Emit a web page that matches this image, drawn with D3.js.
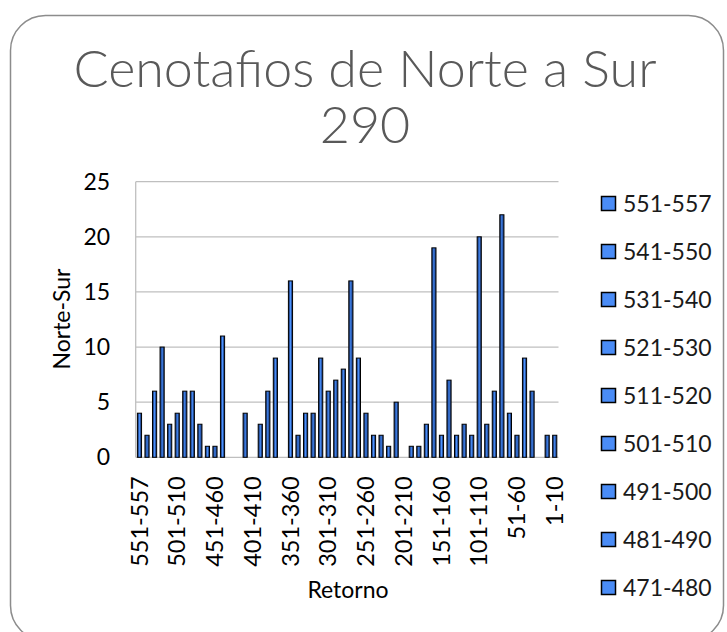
<!DOCTYPE html>
<html>
<head>
<meta charset="utf-8">
<script src="https://cdnjs.cloudflare.com/ajax/libs/d3/7.8.5/d3.min.js"></script>
<style>
body { margin: 0; background: #fff; }
svg text { font-family: Lato, "Open Sans", sans-serif; }
</style>
</head>
<body>
<svg></svg>
<script>
var categories = ["551-557", "541-550", "531-540", "521-530", "511-520", "501-510", "491-500", "481-490",
    "471-480", "461-470", "451-460", "441-450", "431-440", "421-430", "411-420", "401-410", "391-400",
    "381-390", "371-380", "361-370", "351-360", "341-350", "331-340", "321-330", "311-320", "301-310",
    "291-300", "281-290", "271-280", "261-270", "251-260", "241-250", "231-240", "221-230", "211-220",
    "201-210", "191-200", "181-190", "171-180", "161-170", "151-160", "141-150", "131-140", "121-130",
    "111-120", "101-110", "91-100", "81-90", "71-80", "61-70", "51-60", "41-50", "31-40", "21-30",
    "11-20", "1-10"];

var values = [4, 2, 6, 10, 3, 4, 6, 6, 3, 1, 1, 11, 0, 0, 4, 0, 3, 6, 9, 0, 16, 2, 4, 4, 9, 6, 7, 8,
    16, 9, 4, 2, 2, 1, 5, 0, 1, 1, 3, 19, 2, 7, 2, 3, 2, 20, 3, 6, 22, 4, 2, 9, 6, 0, 2, 2];

var yTicks = [0, 5, 10, 15, 20, 25];
var xTickLabels = ["551-557", "501-510", "451-460", "401-410", "351-360", "301-310", "251-260",
    "201-210", "151-160", "101-110", "51-60", "1-10"];
var legendLabels = ["551-557", "541-550", "531-540", "521-530", "511-520", "501-510", "491-500",
    "481-490", "471-480"];
var titleLines = ["Cenotafios de Norte a Sur", "290"];

var screen = {width: 727, height: 632};
var plot = {left: 135.7, right: 558.5, top: 181.7, bottom: 457.3};

var svg = d3.select("svg")
    .attr("width", screen.width)
    .attr("height", screen.height);

// chart frame
svg.append("rect")
    .attr("x", 10.5).attr("y", 15.5)
    .attr("width", 713).attr("height", 625)
    .attr("rx", 35).attr("ry", 35)
    .attr("fill", "#fff")
    .attr("stroke", "#8c8c8c")
    .attr("stroke-width", 1.5);

var grad = svg.append("defs").append("linearGradient")
    .attr("id", "barGrad")
    .attr("x1", 0).attr("x2", 1).attr("y1", 0).attr("y2", 0);
grad.append("stop").attr("offset", "0%").attr("stop-color", "#1b3468");
grad.append("stop").attr("offset", "35%").attr("stop-color", "#2c5fb8");
grad.append("stop").attr("offset", "50%").attr("stop-color", "#4d95ff");
grad.append("stop").attr("offset", "65%").attr("stop-color", "#2c5fb8");
grad.append("stop").attr("offset", "100%").attr("stop-color", "#1b3468");

// title
svg.selectAll(".title")
    .data(titleLines)
    .enter()
    .append("text")
    .attr("class", "title")
    .attr("x", 365)
    .attr("y", function(d, i){ return 87 + i * 56; })
    .attr("text-anchor", "middle")
    .attr("fill", "#595959")
    .style("font-size", "52px")
    .style("font-weight", 300)
    .text(function(d){ return d; });

var xScale = d3.scaleBand()
    .domain(categories)
    .range([plot.left, plot.right])
    .paddingInner(0.45)
    .paddingOuter(0.225);

var yScale = d3.scaleLinear()
    .domain([0, 25])
    .range([plot.bottom, plot.top]);

// gridlines
svg.selectAll(".grid")
    .data(yTicks)
    .enter()
    .append("line")
    .attr("class", "grid")
    .attr("x1", plot.left).attr("x2", plot.right)
    .attr("y1", function(d){ return yScale(d); })
    .attr("y2", function(d){ return yScale(d); })
    .attr("stroke", "#bfbfbf")
    .attr("stroke-width", 1.3);

svg.append("line")
    .attr("x1", plot.left).attr("x2", plot.left)
    .attr("y1", plot.top).attr("y2", plot.bottom)
    .attr("stroke", "#bfbfbf")
    .attr("stroke-width", 1.3);

// y axis
var yAxis = svg.append("g")
    .attr("transform", "translate(" + plot.left + ",0)")
    .call(d3.axisLeft(yScale).tickValues(yTicks).tickSize(0).tickPadding(25.5));
yAxis.select(".domain").remove();
yAxis.selectAll("text")
    .style("font-size", "23px")
    .attr("fill", "#000");

// x axis
var xAxis = svg.append("g")
    .attr("transform", "translate(0," + plot.bottom + ")")
    .call(d3.axisBottom(xScale).tickValues(xTickLabels).tickSize(0));
xAxis.select(".domain").remove();
xAxis.selectAll("text")
    .attr("transform", "rotate(-90)")
    .attr("text-anchor", "end")
    .attr("x", -19)
    .attr("y", 0)
    .attr("dy", "0.35em")
    .style("font-size", "23.5px")
    .attr("fill", "#000");

// bars
svg.selectAll(".bar")
    .data(values)
    .enter()
    .append("rect")
    .attr("class", "bar")
    .attr("x", function(d, i){ return xScale(categories[i]); })
    .attr("y", function(d){ return yScale(d); })
    .attr("width", xScale.bandwidth())
    .attr("height", function(d){ return plot.bottom - yScale(d); })
    .attr("fill", "url(#barGrad)")
    .attr("stroke", "#000")
    .attr("stroke-width", 1)
    .style("display", function(d){ return d > 0 ? null : "none"; });

// axis titles
svg.append("text")
    .attr("transform", "translate(61.7,319) rotate(-90)")
    .attr("text-anchor", "middle")
    .attr("dy", "0.35em")
    .style("font-size", "23px")
    .text("Norte-Sur");

svg.append("text")
    .attr("x", 348)
    .attr("y", 598)
    .attr("text-anchor", "middle")
    .style("font-size", "23px")
    .text("Retorno");

// legend
var legend = svg.selectAll(".legend")
    .data(legendLabels)
    .enter()
    .append("g")
    .attr("class", "legend")
    .attr("transform", function(d, i){ return "translate(601," + (203.5 + i * 48) + ")"; });

legend.append("rect")
    .attr("x", 0.5).attr("y", -7)
    .attr("width", 14).attr("height", 14)
    .attr("fill", "#4a8cf6")
    .attr("stroke", "#000")
    .attr("stroke-width", 1.5);

legend.append("text")
    .attr("x", 22)
    .attr("dy", "0.35em")
    .style("font-size", "23px")
    .attr("fill", "#1a1a1a")
    .text(function(d){ return d; });
</script>
</body>
</html>
